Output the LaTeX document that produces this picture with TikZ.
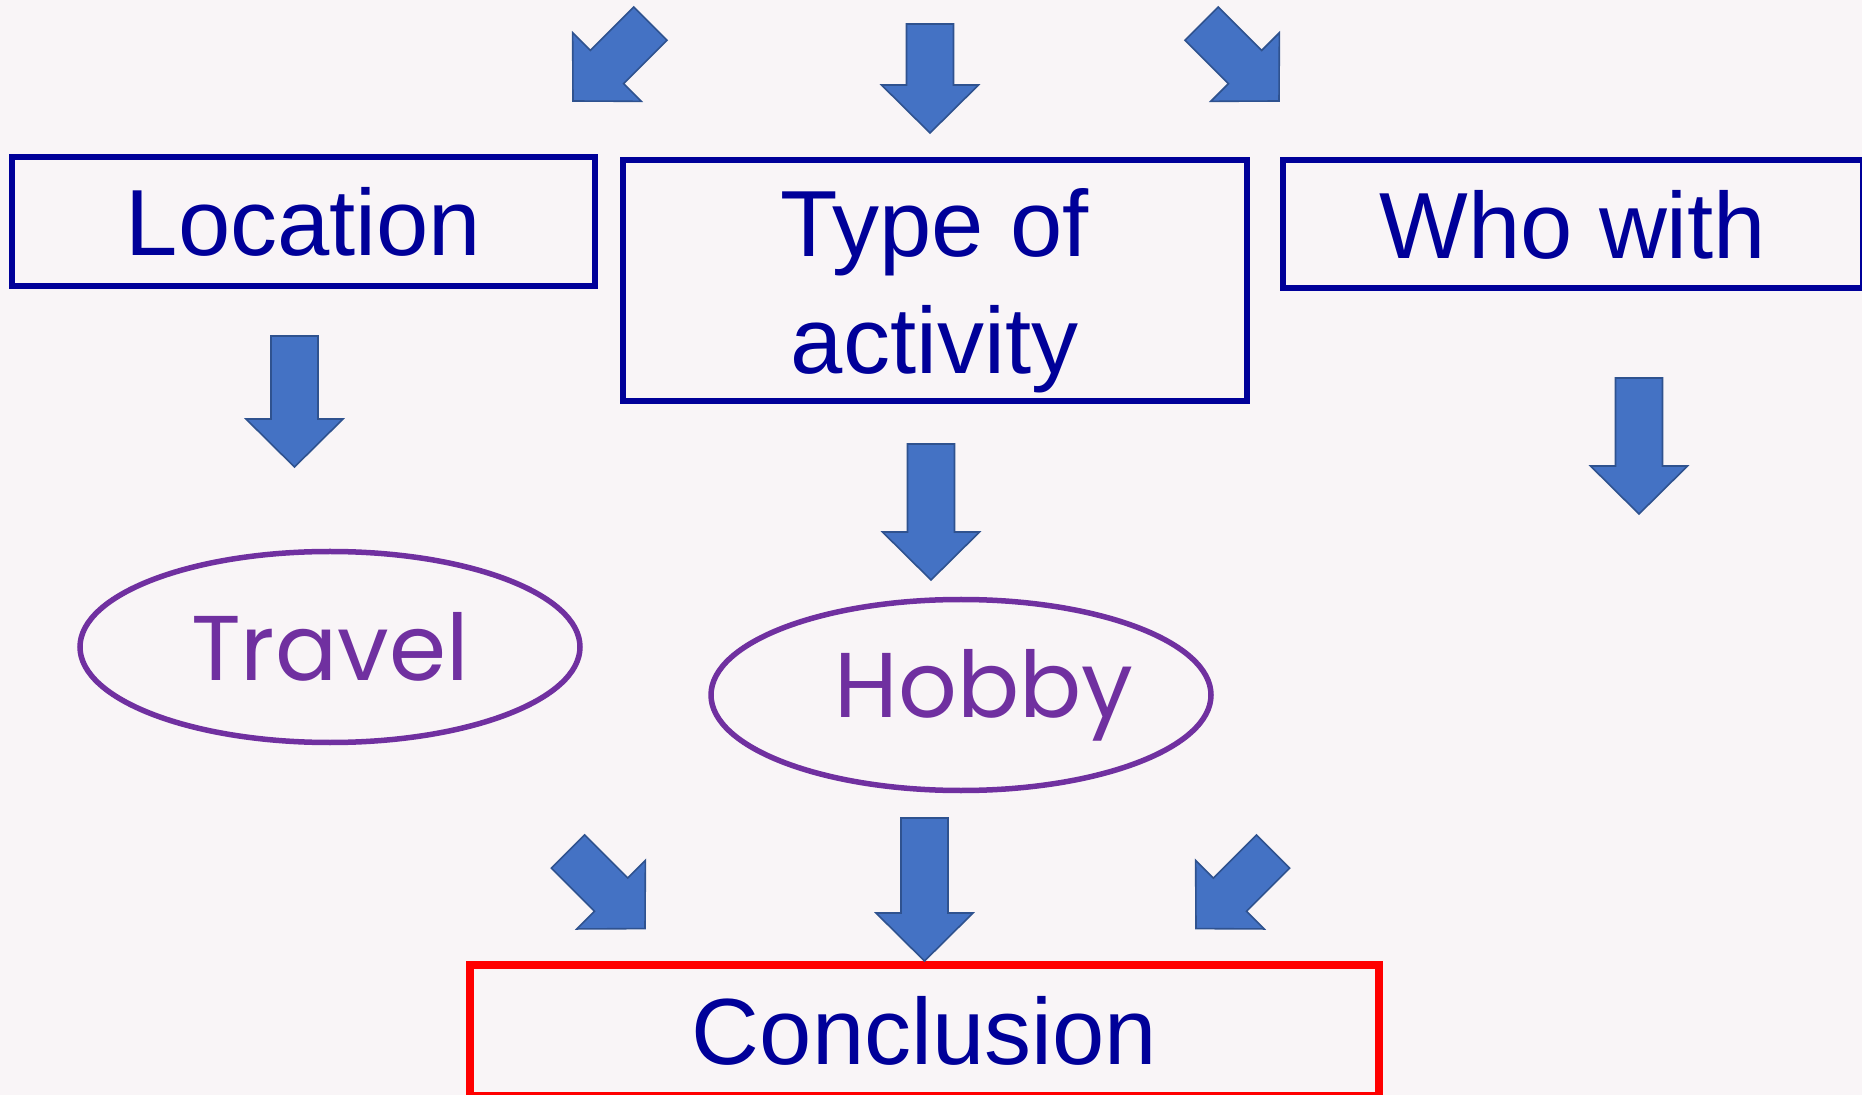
\documentclass[tikz,border=0pt]{standalone}
\usepackage{fontspec}
\usepackage{tikz}
\usetikzlibrary{calc,shapes.geometric}
\newfontfamily\arialfont{Liberation Sans}
\newfontfamily\gothicfont{Poppins}
\definecolor{bgpink}{HTML}{F9F5F7}
\definecolor{boxblue}{HTML}{000099}
\definecolor{ovalpurple}{HTML}{7030A0}
\definecolor{arrowfill}{HTML}{4472C4}
\definecolor{arrowline}{HTML}{2F528F}
\tikzset{
  topic/.style={draw=boxblue,line width=3pt,text=boxblue,inner sep=0pt,
    font=\arialfont\fontsize{47}{58.5}\selectfont},
  idea/.style={ellipse,draw=ovalpurple,line width=2.75pt,text=ovalpurple,inner sep=0pt,
    minimum width=250pt,minimum height=95.5pt,font=\gothicfont\fontsize{46}{55}\selectfont},
  fat arrow/.style={fill=arrowfill,draw=arrowline,line width=0.8pt,line join=miter}
}
% block arrow from tail #1 to tip #2
\newcommand{\blockarrow}[2]{%
  \coordinate (hb) at ($(#2)!24pt!(#1)$);
  \draw[fat arrow] ($(#1)!11.75pt!90:(#2)$) -- ($(hb)!11.75pt!90:(#2)$)
    -- ($(hb)!24.25pt!90:(#2)$) -- (#2) -- ($(hb)!24.25pt!-90:(#2)$)
    -- ($(hb)!11.75pt!-90:(#2)$) -- ($(#1)!11.75pt!-90:(#2)$) -- cycle;}

\begin{document}
\begin{tikzpicture}[x=0.5pt,y=-0.5pt]
\useasboundingbox (0,0) rectangle (1862,1095);
\clip (0,0) rectangle (1862,1095);
\fill[bgpink] (0,0) rectangle (1862,1095);

\node[topic,minimum width=291.5pt,minimum height=64.25pt] (loc) at (303.5,221.5) {Location};
\node[topic,minimum width=312pt,minimum height=120.5pt,align=center,text depth=0pt] (type) at (934.5,281) {Type of\\activity};
\node[topic,minimum width=290pt,minimum height=64pt] (who) at (1573,224.5) {Who with};
\node[idea] (travel) at (330,647) {Travel};
\node[idea] (hobby) at (961,695) {\hspace{0.5em}Hobby};
\node[topic,draw=red,line width=4pt,minimum width=454.5pt,minimum height=65.5pt] (concl) at (924.5,1030.5) {Conclusion};

% top row
\coordinate (t1) at (650.4,23.6);
\coordinate (h1) at (573,101);
\coordinate (t2) at (930,24);
\coordinate (h2) at (930,133);
\coordinate (t3) at (1201.6,23.6);
\coordinate (h3) at (1279,101);
\blockarrow{t1}{h1}
\blockarrow{t2}{h2}
\blockarrow{t3}{h3}

% under the boxes
\coordinate (t4) at (294.5,336);
\coordinate (h4) at (294.5,467);
\coordinate (t5) at (931,444);
\coordinate (h5) at (931,580);
\coordinate (t6) at (1639,378);
\coordinate (h6) at (1639,514);
\blockarrow{t4}{h4}
\blockarrow{t5}{h5}
\blockarrow{t6}{h6}

% into the conclusion
\coordinate (t7) at (568,851.6);
\coordinate (h7) at (645,928.6);
\coordinate (h8) at (concl.north);
\coordinate (t8) at ($(h8)+(0,-143)$);
\coordinate (t9) at (1273,851.6);
\coordinate (h9) at (1196,928.6);
\blockarrow{t7}{h7}
\blockarrow{t8}{h8}
\blockarrow{t9}{h9}
\end{tikzpicture}
\end{document}
